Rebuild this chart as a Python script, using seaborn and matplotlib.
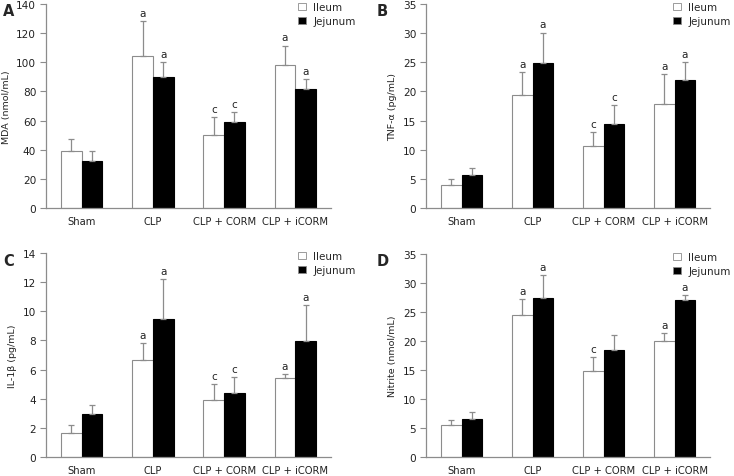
import pandas as pd
import matplotlib
matplotlib.use("Agg")
import matplotlib.pyplot as plt
import seaborn as sns

groups = ["Sham", "CLP", "CLP + CORM", "CLP + iCORM"]
tissues = ["Ileum", "Jejunum"]

# panel A - MDA
mda_ileum = [38.8, 104.0, 50.2, 97.8]
mda_ileum_err = [8.4, 24.0, 12.0, 13.7]
mda_jej = [32.1, 90.0, 59.3, 81.4]
mda_jej_err = [7.0, 10.0, 6.8, 7.1]

# panel B - TNF-alpha
tnf_ileum = [3.9, 19.4, 10.7, 17.8]
tnf_ileum_err = [1.1, 4.0, 2.4, 5.2]
tnf_jej = [5.7, 24.8, 14.4, 22.0]
tnf_jej_err = [1.1, 5.3, 3.2, 3.0]

# panel C - IL-1beta
il_ileum = [1.67, 6.69, 3.93, 5.39]
il_ileum_err = [0.52, 1.11, 1.05, 0.30]
il_jej = [2.97, 9.50, 4.38, 7.99]
il_jej_err = [0.59, 2.69, 1.10, 2.47]

# panel D - Nitrite
no_ileum = [5.5, 24.4, 14.8, 20.0]
no_ileum_err = [0.8, 2.9, 2.5, 1.4]
no_jej = [6.6, 27.5, 18.5, 27.0]
no_jej_err = [1.2, 3.8, 2.5, 0.9]

# significance letters (ileum, jejunum) per group
mda_sig = [("", ""), ("a", "a"), ("c", "c"), ("a", "a")]
tnf_sig = [("", ""), ("a", "a"), ("c", "c"), ("a", "a")]
il_sig = [("", ""), ("a", "a"), ("c", "c"), ("a", "a")]
no_sig = [("", ""), ("a", "a"), ("c", ""), ("a", "a")]

panels = [
    ("A", "MDA (nmol/mL)", mda_ileum, mda_ileum_err, mda_jej, mda_jej_err, mda_sig, 140, 20),
    ("B", "TNF-α (pg/mL)", tnf_ileum, tnf_ileum_err, tnf_jej, tnf_jej_err, tnf_sig, 35, 5),
    ("C", "IL-1β (pg/mL)", il_ileum, il_ileum_err, il_jej, il_jej_err, il_sig, 14, 2),
    ("D", "Nitrite (nmol/mL)", no_ileum, no_ileum_err, no_jej, no_jej_err, no_sig, 35, 5),
]

sns.set_style("white")
plt.rcParams["font.family"] = ["DejaVu Sans"]

fig = plt.figure(figsize=(7.34, 4.77), dpi=100)
W, H = 734, 477
# axes boxes in pixels: left, top, right, bottom
boxes = [(46, 5, 331, 209), (426, 5, 710, 209), (46, 254, 331, 458), (426, 255, 710, 458)]
letter_pos = [(3, 12), (377, 12), (3, 262), (377, 262)]
legend_x = [0.87, 0.855, 0.87, 0.855]
grey = "#8c8c8c"
txt = "#222222"

for (letter, ylabel, il, il_e, jj, jj_e, sig, ymax, step), box, lp, lx in zip(
        panels, boxes, letter_pos, legend_x):
    l, t, r, b = box
    ax = fig.add_axes([l / W, 1 - b / H, (r - l) / W, (b - t) / H])
    df = pd.DataFrame({
        "group": groups * 2,
        "tissue": [tissues[0]] * 4 + [tissues[1]] * 4,
        "value": il + jj,
    })
    sns.barplot(data=df, x="group", y="value", hue="tissue", order=groups, hue_order=tissues,
                palette=["white", "black"], width=0.58, errorbar=None, ax=ax,
                edgecolor=grey, linewidth=0.8, saturation=1)
    # jejunum bars get black edges
    bars = ax.patches[:8]
    for p in bars[4:]:
        p.set_edgecolor("black")
    errs = il_e + jj_e
    vals = il + jj
    letters = [s[0] for s in sig] + [s[1] for s in sig]
    for p, v, e, s in zip(bars, vals, errs, letters):
        xc = p.get_x() + p.get_width() / 2
        ax.errorbar(xc, v, yerr=[[0], [e]], fmt="none", ecolor=grey, elinewidth=0.9,
                    capsize=2.5, capthick=0.9)
        if s:
            ax.text(xc, v + e + ymax * 0.015, s, ha="center", va="bottom", fontsize=7.5,
                    color=txt)
    ax.set_xlim(-0.5, 3.5)
    ax.set_ylim(0, ymax)
    ax.set_yticks(range(0, ymax + 1, step))
    ax.set_xticks(range(4))
    ax.set_xticks([0.5, 1.5, 2.5, 3.5], minor=True)
    ax.tick_params(axis="x", which="major", length=0, labelsize=7.2, pad=6, colors=txt)
    ax.tick_params(axis="x", which="minor", length=4, direction="out", color=grey, width=0.8)
    ax.tick_params(axis="y", length=4, direction="out", color=grey, width=0.8,
                   labelsize=7.6, labelcolor=txt, left=True, pad=3)
    ax.set_xlabel("")
    ax.set_ylabel(ylabel, fontsize=6.8, color=txt, labelpad=4)
    for side in ["top", "right"]:
        ax.spines[side].set_visible(False)
    for side in ["left", "bottom"]:
        ax.spines[side].set_color(grey)
        ax.spines[side].set_linewidth(0.9)
    leg = ax.legend(loc="upper left", bbox_to_anchor=(lx, 1.03), frameon=False,
                    handlelength=0.75, handleheight=0.75, handletextpad=0.7,
                    labelspacing=0.4, fontsize=7.5, borderaxespad=0)
    for h in leg.legend_handles:
        h.set_linewidth(0.6)
    fig.text(lp[0] / W, 1 - lp[1] / H, letter, fontsize=10.5, fontweight="bold",
             ha="left", va="center")

fig.savefig("out.png", dpi=100)
